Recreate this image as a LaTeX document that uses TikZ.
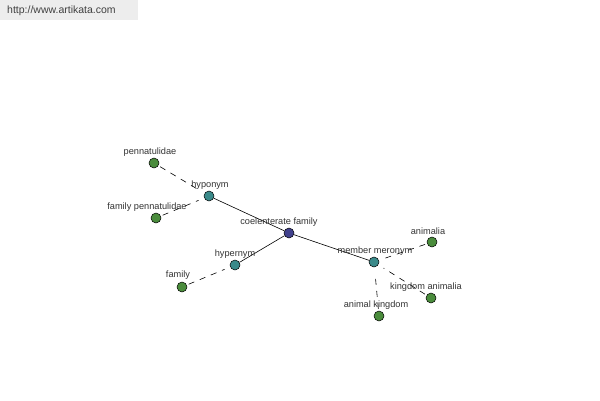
\documentclass[tikz,border=0pt]{standalone}
\usepackage{fontspec}
\setmainfont{Liberation Sans}
\begin{document}
\begin{tikzpicture}[x=1pt,y=-1pt,
  vtx/.style={circle,draw=black,line width=0.5pt,minimum size=10pt,inner sep=0pt},
  hubc/.style={vtx,fill=hubblue},
  relc/.style={vtx,fill=relteal},
  leafc/.style={vtx,fill=leafgreen},
  lbl/.style={font=\fontsize{9.2}{10}\selectfont,text=black!80,inner sep=0pt},
  solidedge/.style={line width=0.6pt},
  dashedge/.style={line width=0.6pt,dash pattern=on 6pt off 6pt,shorten <=2pt,shorten >=6pt}]
\definecolor{hubblue}{RGB}{64,64,140}
\definecolor{relteal}{RGB}{58,138,138}
\definecolor{leafgreen}{RGB}{74,140,60}
\fill[white] (0,0) rectangle (600,400);
\useasboundingbox (0,0) rectangle (600,400);
\fill[black!7] (0,0) rectangle (138,20);
\node[font=\fontsize{10.5}{12}\selectfont,text=black!75,anchor=west,inner sep=0pt] (url) at (7,11) {http://www.artikata.com};
% nodes
\node[hubc] (coel) at (289,233) {};
\node[relc] (hypo) at (209,196) {};
\node[relc] (hyper) at (235,265) {};
\node[relc] (mero) at (374,262) {};
\node[leafc] (penn) at (154,163) {};
\node[leafc] (fpenn) at (156,218) {};
\node[leafc] (fam) at (182,287) {};
\node[leafc] (anim) at (432,242) {};
\node[leafc] (kanim) at (431,298) {};
\node[leafc] (akingd) at (379,316) {};
% edges
\draw[solidedge] (coel) -- (hypo);
\draw[solidedge] (coel) -- (hyper);
\draw[solidedge] (coel) -- (mero);
\draw[dashedge] (penn) -- (hypo);
\draw[dashedge] (fpenn) -- (hypo);
\draw[dashedge] (fam) -- (hyper);
\draw[dashedge] (anim) -- (mero);
\draw[dashedge] (kanim) -- (mero);
\draw[dashedge] (akingd) -- (mero);
% labels
\node[lbl] (lcoel) at (279,222) {coelenterate family};
\node[lbl] (lhypo) at (210,185) {hyponym};
\node[lbl] (lhyper) at (235,254) {hypernym};
\node[lbl] (lmero) at (375,251) {member meronym};
\node[lbl] (lpenn) at (150,152) {pennatulidae};
\node[lbl] (lfpenn) at (147,207) {family pennatulidae};
\node[lbl] (lfam) at (178,275) {family};
\node[lbl] (lanim) at (428,231) {animalia};
\node[lbl] (lkanim) at (426,287) {kingdom animalia};
\node[lbl] (lakingd) at (376,305) {animal kingdom};
\end{tikzpicture}
\end{document}
